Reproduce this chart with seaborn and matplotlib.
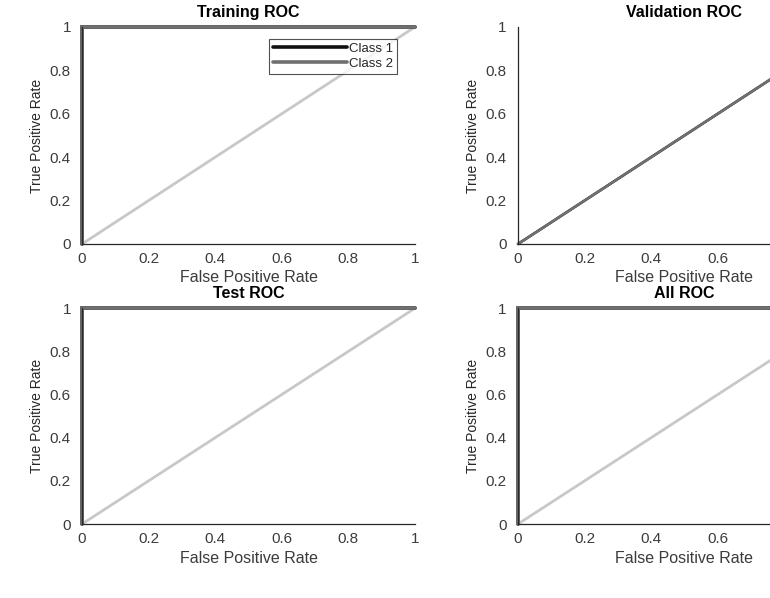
import pandas as pd
import seaborn as sns
import matplotlib.pyplot as plt
from matplotlib.ticker import FuncFormatter

# -----------------------------
# Data (ROC points per panel)
# -----------------------------
panel_titles = ["Training ROC", "Validation ROC", "Test ROC", "All ROC"]
classes = ["Class 1", "Class 2"]

fpr_perfect = [0.0, 0.0, 1.0]
tpr_perfect = [0.0, 1.0, 1.0]
fpr_chance = [0.0, 1.0]
tpr_chance = [0.0, 1.0]

roc_fpr = {
    "Training ROC": fpr_perfect,
    "Validation ROC": fpr_chance,
    "Test ROC": fpr_perfect,
    "All ROC": fpr_perfect,
}
roc_tpr = {
    "Training ROC": tpr_perfect,
    "Validation ROC": tpr_chance,
    "Test ROC": tpr_perfect,
    "All ROC": tpr_perfect,
}
diag_x = [0.0, 1.0]
diag_y = [0.0, 1.0]
ticks = [0, 0.2, 0.4, 0.6, 0.8, 1]

# -----------------------------
# Style
# -----------------------------
sns.set_theme(style="white")
plt.rcParams['font.family'] = ['Liberation Sans', 'DejaVu Sans']

colores = {"Class 1": "#111111", "Class 2": "#707070"}
txt_gris = "#3c3c3c"

fig = plt.figure(figsize=(7.7, 5.98), dpi=100)

# posiciones (fracciones de figura); las de la derecha salen del borde
posiciones = [
    [0.1065, 0.592, 0.4325, 0.363],
    [0.6727, 0.592, 0.4325, 0.363],
    [0.1065, 0.1237, 0.4325, 0.361],
    [0.6727, 0.1237, 0.4325, 0.361],
]

for titulo, pos in zip(panel_titles, posiciones):
    ax = fig.add_axes(pos)
    ax.set_facecolor("white")

    # Línea diagonal de referencia
    sns.lineplot(x=diag_x, y=diag_y, ax=ax, color="#c8c8c8", linewidth=2.0,
                 clip_on=False, legend=False)

    rows = []
    for c in classes:
        for x, y in zip(roc_fpr[titulo], roc_tpr[titulo]):
            rows.append({"fpr": x, "tpr": y, "clase": c})
    df = pd.DataFrame(rows)
    for c in classes:
        d = df[df["clase"] == c]
        ancho = 2.6 if titulo != "Validation ROC" else 1.8
        ax.plot(d["fpr"], d["tpr"], color=colores[c], linewidth=ancho,
                label=c, clip_on=False, solid_joinstyle="miter")

    ax.set_xlim(0, 1)
    ax.set_ylim(0, 1)
    ax.set_xticks(ticks)
    ax.set_yticks(ticks)
    fmt = FuncFormatter(lambda v, p: f"{v:g}")
    ax.xaxis.set_major_formatter(fmt)
    ax.yaxis.set_major_formatter(fmt)
    ax.tick_params(direction="in", length=3.5, width=0.8, colors="#262626",
                   labelsize=11, labelcolor=txt_gris)
    ax.tick_params(axis="y", pad=8)
    ax.tick_params(axis="x", pad=6)
    for lado in ["top", "right"]:
        ax.spines[lado].set_visible(False)
    for lado in ["left", "bottom"]:
        ax.spines[lado].set_color("#262626")
        ax.spines[lado].set_linewidth(0.9)

    ax.set_title(titulo, fontsize=11.5, fontweight="bold", color="black", pad=7)
    ax.set_xlabel("False Positive Rate", fontsize=11.5, color=txt_gris, labelpad=3)
    ax.set_ylabel("True Positive Rate", fontsize=10, color="#262626", labelpad=4)

    if titulo == "Training ROC":
        leg = ax.legend(loc="upper right", bbox_to_anchor=(0.946, 0.945),
                        fontsize=9.5, frameon=True, fancybox=False,
                        handlelength=5.6, handletextpad=0.15, borderpad=0.3,
                        labelspacing=0.2, borderaxespad=0)
        leg.get_frame().set_edgecolor("#262626")
        leg.get_frame().set_linewidth(0.8)
        for t in leg.get_texts():
            t.set_color("#262626")

fig.savefig("out.png", dpi=100)
